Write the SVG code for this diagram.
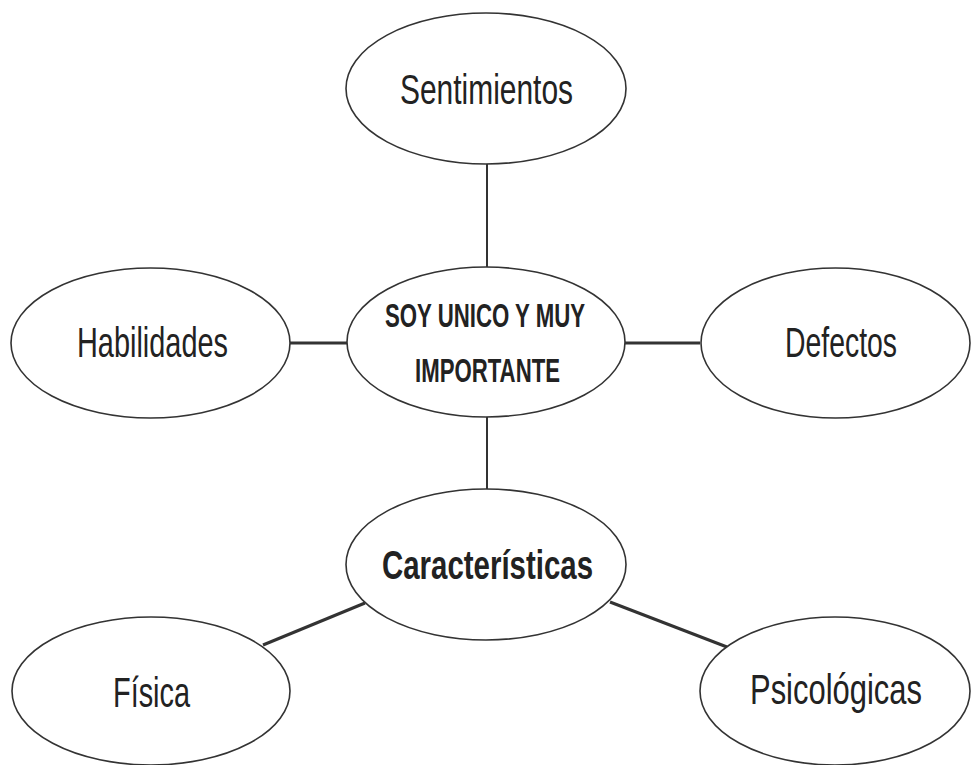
<svg xmlns="http://www.w3.org/2000/svg" width="971" height="765" viewBox="0 0 971 765">
<style>
.node ellipse{fill:#ffffff;stroke:#333333;stroke-width:1.6}
.lbl{font-family:"Liberation Sans",Arial,sans-serif;font-size:42px;fill:#222222;text-anchor:middle}
.b{font-weight:bold}
.conn line{stroke:#333333;stroke-linecap:butt}
</style>
<rect width="971" height="765" fill="#ffffff"/>
<g id="connectors" class="conn">
<line x1="487" y1="164" x2="487" y2="267" stroke-width="2"/>
<line x1="290" y1="343" x2="347" y2="343" stroke-width="3"/>
<line x1="625" y1="343" x2="700" y2="343" stroke-width="3"/>
<line x1="487" y1="417" x2="487" y2="489" stroke-width="2"/>
<line x1="263" y1="645" x2="365" y2="603" stroke-width="3"/>
<line x1="610" y1="602" x2="727" y2="647" stroke-width="3"/>
</g>
<g id="sentimientos" class="node">
<ellipse cx="486" cy="88.5" rx="140" ry="75.5"/>
<text class="lbl" x="486.5" y="104" textLength="173" lengthAdjust="spacingAndGlyphs">Sentimientos</text>
</g>
<g id="centro" class="node">
<ellipse cx="486" cy="342" rx="139" ry="75"/>
<text class="lbl b" x="485" y="327" font-size="34" style="font-size:34px" textLength="200" lengthAdjust="spacingAndGlyphs">SOY UNICO Y MUY</text>
<text class="lbl b" x="487.5" y="382" style="font-size:34px" textLength="145" lengthAdjust="spacingAndGlyphs">IMPORTANTE</text>
</g>
<g id="habilidades" class="node">
<ellipse cx="150.5" cy="343" rx="139.5" ry="75"/>
<text class="lbl" x="152.5" y="357" textLength="151" lengthAdjust="spacingAndGlyphs">Habilidades</text>
</g>
<g id="defectos" class="node">
<ellipse cx="835.5" cy="343" rx="134.5" ry="75"/>
<text class="lbl" x="841" y="357" textLength="112" lengthAdjust="spacingAndGlyphs">Defectos</text>
</g>
<g id="caracteristicas" class="node">
<ellipse cx="486" cy="564.5" rx="140" ry="75.5"/>
<text class="lbl b" x="487.5" y="579" style="font-size:40px" textLength="211" lengthAdjust="spacingAndGlyphs">Características</text>
</g>
<g id="fisica" class="node">
<ellipse cx="151" cy="691" rx="139" ry="74"/>
<text class="lbl" x="151.5" y="707" textLength="77" lengthAdjust="spacingAndGlyphs">Física</text>
</g>
<g id="psicologicas" class="node">
<ellipse cx="835" cy="691" rx="135" ry="74"/>
<text class="lbl" x="836" y="704" textLength="172" lengthAdjust="spacingAndGlyphs">Psicológicas</text>
</g>
</svg>
